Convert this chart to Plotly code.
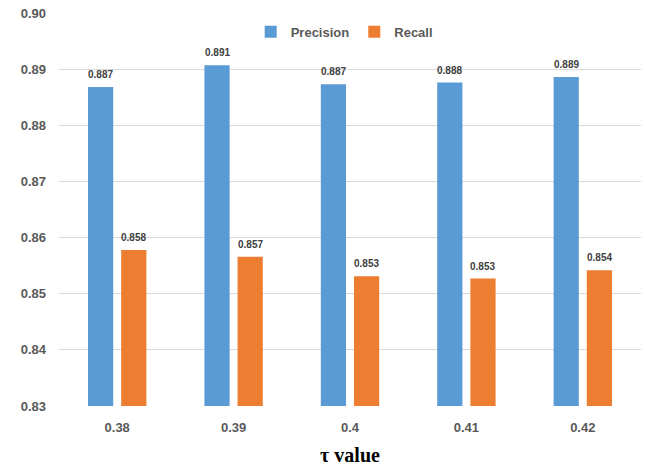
import plotly.graph_objects as go

# τ values on the x axis and the two metrics per value
tau_labels = ["0.38", "0.39", "0.4", "0.41", "0.42"]
precision = [0.8868, 0.8907, 0.8873, 0.8876, 0.8886]
recall = [0.8578, 0.8566, 0.8531, 0.8527, 0.8542]

BLUE = "#5B9BD5"
ORANGE = "#ED7D31"
TEXT_GREY = "#595959"
SANS = "Liberation Sans, Arial"

fig = go.Figure()
fig.add_trace(go.Bar(name="Precision", x=tau_labels, y=precision,
                     marker=dict(color=BLUE, line=dict(width=0))))
fig.add_trace(go.Bar(name="Recall", x=tau_labels, y=recall,
                     marker=dict(color=ORANGE, line=dict(width=0))))

# value labels above each bar (category axis -> position by index)
annotations = []
for series, shift in ((precision, -16.5), (recall, 16.5)):
    for i, val in enumerate(series):
        annotations.append(dict(
            x=i, y=val, xref="x", yref="y", text=f"{val:.3f}",
            showarrow=False, yanchor="bottom", xshift=shift, yshift=5,
            font=dict(family=SANS, size=10, color="#404040", weight="bold"),
        ))

fig.update_layout(
    width=646, height=466,
    margin=dict(l=59, r=5, t=13, b=60),
    paper_bgcolor="white", plot_bgcolor="white",
    barmode="group", bargap=0.43, bargroupgap=0.24,
    showlegend=True,
    legend=dict(orientation="h", x=0.49, xanchor="center", y=0.952, yanchor="middle",
                font=dict(family=SANS, size=13, color=TEXT_GREY, weight="bold"),
                itemwidth=30, bgcolor="rgba(0,0,0,0)"),
    annotations=annotations,
    font=dict(family=SANS),
)

fig.update_yaxes(range=[0.83, 0.90], dtick=0.01, tickformat=".2f",
                 showgrid=True, gridcolor="#D9D9D9", gridwidth=1,
                 zeroline=False, showline=False, ticks="",
                 ticklabelstandoff=12,
                 tickfont=dict(family=SANS, size=13, color=TEXT_GREY, weight="bold"))

fig.update_xaxes(type="category", showgrid=False, showline=False, ticks="",
                 ticklabelstandoff=12,
                 tickfont=dict(family=SANS, size=13, color=TEXT_GREY, weight="bold"),
                 title=dict(text="<b>τ value</b>", standoff=13,
                            font=dict(family="Liberation Serif, Times New Roman", size=20, color="black")))

fig.write_html("out.html")
